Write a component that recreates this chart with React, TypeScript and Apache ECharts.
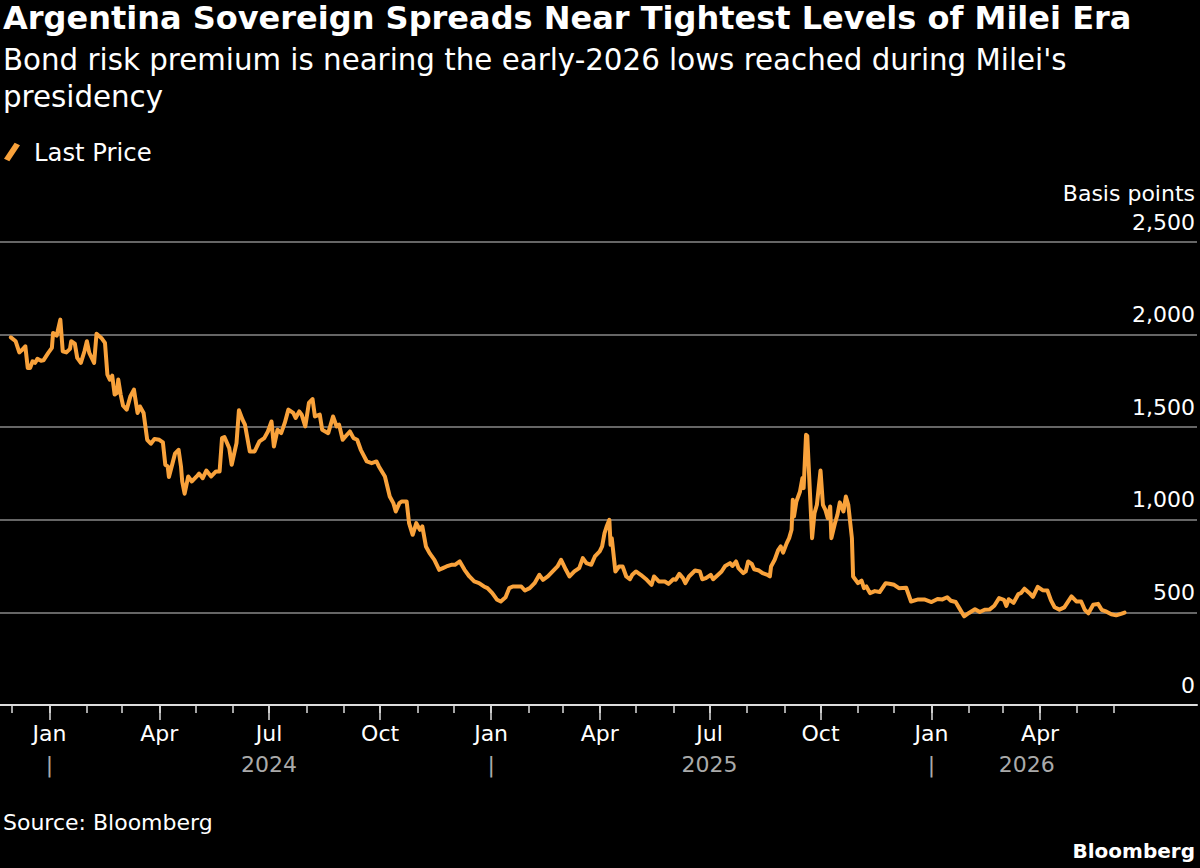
import React, { useEffect, useRef } from "react";
import * as echarts from "echarts";

const dates: string[] = [
  "2023-11-30","2023-12-04","2023-12-07","2023-12-09","2023-12-12","2023-12-14","2023-12-16","2023-12-18","2023-12-20","2023-12-22",
  "2023-12-25","2023-12-27","2023-12-31","2024-01-03","2024-01-04","2024-01-07","2024-01-10","2024-01-12","2024-01-15","2024-01-18",
  "2024-01-19","2024-01-22","2024-01-24","2024-01-27","2024-01-30","2024-02-01","2024-02-03","2024-02-07","2024-02-09","2024-02-13",
  "2024-02-16","2024-02-18","2024-02-20","2024-02-22","2024-02-24","2024-02-26","2024-02-27","2024-02-29","2024-03-02","2024-03-05",
  "2024-03-08","2024-03-11","2024-03-14","2024-03-16","2024-03-19","2024-03-22","2024-03-25","2024-03-28","2024-04-01","2024-04-04",
  "2024-04-06","2024-04-08","2024-04-09","2024-04-12","2024-04-14","2024-04-17","2024-04-19","2024-04-20","2024-04-22","2024-04-25",
  "2024-04-28","2024-05-02","2024-05-04","2024-05-07","2024-05-10","2024-05-14","2024-05-18","2024-05-21","2024-05-23","2024-05-25",
  "2024-05-29","2024-05-31","2024-06-04","2024-06-06","2024-06-09","2024-06-11","2024-06-15","2024-06-19","2024-06-23","2024-06-27",
  "2024-06-30","2024-07-03","2024-07-05","2024-07-08","2024-07-11","2024-07-14","2024-07-17","2024-07-21","2024-07-23","2024-07-26",
  "2024-07-28","2024-07-31","2024-08-03","2024-08-06","2024-08-08","2024-08-12","2024-08-14","2024-08-19","2024-08-23","2024-08-26",
  "2024-08-28","2024-08-31","2024-09-03","2024-09-06","2024-09-09","2024-09-12","2024-09-15","2024-09-20","2024-09-24","2024-09-28",
  "2024-09-30","2024-10-05","2024-10-07","2024-10-09","2024-10-12","2024-10-14","2024-10-17","2024-10-19","2024-10-23","2024-10-25",
  "2024-10-28","2024-10-31","2024-11-03","2024-11-05","2024-11-08","2024-11-11","2024-11-15","2024-11-19","2024-11-22","2024-11-25",
  "2024-11-29","2024-12-02","2024-12-06","2024-12-10","2024-12-14","2024-12-18","2024-12-22","2024-12-26","2024-12-29","2025-01-02",
  "2025-01-06","2025-01-09","2025-01-13","2025-01-16","2025-01-19","2025-01-23","2025-01-26","2025-01-29","2025-02-02","2025-02-06",
  "2025-02-10","2025-02-13","2025-02-17","2025-02-21","2025-02-25","2025-02-28","2025-03-04","2025-03-07","2025-03-11","2025-03-15",
  "2025-03-18","2025-03-21","2025-03-25","2025-03-28","2025-04-01","2025-04-03","2025-04-05","2025-04-07","2025-04-09","2025-04-10",
  "2025-04-11","2025-04-14","2025-04-17","2025-04-20","2025-04-23","2025-04-26","2025-04-28","2025-05-01","2025-05-05","2025-05-10",
  "2025-05-14","2025-05-16","2025-05-20","2025-05-25","2025-05-28","2025-06-01","2025-06-03","2025-06-06","2025-06-09","2025-06-11",
  "2025-06-14","2025-06-19","2025-06-23","2025-06-25","2025-06-28","2025-07-02","2025-07-04","2025-07-07","2025-07-11","2025-07-14",
  "2025-07-18","2025-07-20","2025-07-23","2025-07-25","2025-07-29","2025-07-31","2025-08-02","2025-08-05","2025-08-07","2025-08-11",
  "2025-08-14","2025-08-18","2025-08-20","2025-08-21","2025-08-24","2025-08-27","2025-08-29","2025-08-31","2025-09-03","2025-09-05",
  "2025-09-07","2025-09-08","2025-09-09","2025-09-11","2025-09-14","2025-09-16","2025-09-17","2025-09-19","2025-09-20","2025-09-22",
  "2025-09-24","2025-09-26","2025-09-28","2025-10-01","2025-10-03","2025-10-05","2025-10-07","2025-10-09","2025-10-10","2025-10-13",
  "2025-10-15","2025-10-17","2025-10-20","2025-10-22","2025-10-24","2025-10-27","2025-10-28","2025-11-01","2025-11-04","2025-11-06",
  "2025-11-08","2025-11-11","2025-11-15","2025-11-19","2025-11-24","2025-11-27","2025-12-01","2025-12-05","2025-12-11","2025-12-15",
  "2025-12-21","2025-12-26","2026-01-01","2026-01-06","2026-01-10","2026-01-14","2026-01-17","2026-01-21","2026-01-24","2026-01-28",
  "2026-02-01","2026-02-06","2026-02-10","2026-02-14","2026-02-18","2026-02-22","2026-02-26","2026-03-02","2026-03-04","2026-03-06",
  "2026-03-10","2026-03-14","2026-03-16","2026-03-19","2026-03-23","2026-03-26","2026-03-30","2026-04-03","2026-04-07","2026-04-10",
  "2026-04-13","2026-04-17","2026-04-21","2026-04-27","2026-05-01","2026-05-05","2026-05-08","2026-05-11","2026-05-15","2026-05-19",
  "2026-05-22","2026-05-26","2026-05-30","2026-06-03","2026-06-07","2026-06-10",
];

const spreads: number[] = [
  1985,1964,1904,1915,1937,1820,1820,1856,1847,1869,
  1859,1861,1901,1928,2009,1995,2081,1910,1904,1923,
  1964,1951,1874,1847,1910,1964,1901,1847,2005,1982,
  1955,1784,1757,1778,1676,1685,1757,1676,1616,1595,
  1666,1703,1577,1612,1577,1432,1411,1436,1432,1418,
  1297,1288,1231,1306,1357,1378,1288,1207,1141,1234,
  1207,1234,1249,1225,1266,1234,1261,1261,1441,1447,
  1387,1297,1414,1591,1541,1514,1369,1369,1423,1441,
  1477,1531,1396,1486,1468,1523,1595,1577,1550,1585,
  1568,1504,1631,1652,1558,1568,1486,1468,1558,1504,
  1514,1432,1455,1477,1441,1432,1378,1315,1306,1315,
  1288,1234,1180,1126,1090,1045,1090,1099,1099,982,
  919,982,946,964,856,820,784,730,739,748,
  757,757,775,730,694,667,658,640,631,604,
  568,559,582,631,640,640,640,618,631,658,
  703,676,694,721,748,784,730,694,721,739,
  793,766,757,802,829,856,928,968,1000,865,
  901,721,748,748,694,679,703,721,703,676,
  649,694,667,667,654,679,676,708,685,658,
  694,726,721,679,685,703,679,697,721,751,
  766,751,775,739,712,721,775,762,733,726,
  712,703,694,748,784,838,856,823,874,901,
  946,1108,1018,1099,1153,1225,1171,1459,1454,1180,
  901,1036,1081,1266,1081,1054,1009,1072,901,982,
  1027,1094,1045,1126,1081,901,694,658,672,631,
  640,604,615,610,658,655,649,631,633,559,
  570,570,556,572,570,582,563,556,523,479,
  497,517,502,514,515,536,577,568,535,571,
  552,599,604,628,605,584,638,620,618,565,
  528,515,527,586,559,559,514,495,541,546,
  514,504,490,484,492,499,
];

const monthTicks: string[] = [
  "2023-12-01",
  "2024-01-01","2024-02-01","2024-03-01","2024-04-01","2024-05-01","2024-06-01",
  "2024-07-01","2024-08-01","2024-09-01","2024-10-01","2024-11-01","2024-12-01",
  "2025-01-01","2025-02-01","2025-03-01","2025-04-01","2025-05-01","2025-06-01",
  "2025-07-01","2025-08-01","2025-09-01","2025-10-01","2025-11-01","2025-12-01",
  "2026-01-01","2026-02-01","2026-03-01","2026-04-01","2026-05-01","2026-06-01",
];
const quarterTicks: string[] = [
  "2024-01-01","2024-04-01","2024-07-01","2024-10-01",
  "2025-01-01","2025-04-01","2025-07-01","2025-10-01",
  "2026-01-01","2026-04-01",
];
const monthNames: string[] = ["Jan","Feb","Mar","Apr","May","Jun","Jul","Aug","Sep","Oct","Nov","Dec"];
const yearSeparators: string[] = ["2024-01-01","2025-01-01","2026-01-01"];
const yearLabelDates: string[] = ["2024-07-01","2025-07-01","2026-03-21"];
const yearLabels: string[] = ["2024","2025","2026"];
const axisMin = "2023-11-21";
const axisMax = "2026-08-09";

const FONT = "DejaVu Sans";
const ORANGE = "#F9A23B";

function toTs(s: string): number {
  const [y, m, d] = s.split("-").map(Number);
  return Date.UTC(y, m - 1, d);
}

export default function App() {
  const ref = useRef<HTMLDivElement>(null);
  useEffect(() => {
    document.body.style.margin = "0";
    document.body.style.background = "#000";
    if (!ref.current) return;
    const chart = echarts.init(ref.current, undefined, { renderer: "svg" });
    const yearLabelMap: Record<number, string> = {};
    yearSeparators.forEach((d) => (yearLabelMap[toTs(d)] = "|"));
    yearLabelDates.forEach((d, i) => (yearLabelMap[toTs(d)] = yearLabels[i]));
    const yearAxisValues = [...yearSeparators, ...yearLabelDates].map(toTs);
    const baseX = {
      type: "value" as const,
      min: toTs(axisMin),
      max: toTs(axisMax),
      position: "bottom" as const,
      gridIndex: 0,
      splitLine: { show: false },
    };
    chart.setOption({
      animation: false,
      backgroundColor: "#000",
      textStyle: { fontFamily: FONT },
      title: [
        {
          text: "Argentina Sovereign Spreads Near Tightest Levels of Milei Era",
          left: 3,
          top: 2,
          padding: 0,
          textStyle: { color: "#fff", fontSize: 32, fontWeight: "bold", fontFamily: FONT },
        },
        {
          text: "Bond risk premium is nearing the early-2026 lows reached during Milei's\npresidency",
          left: 3,
          top: 41,
          padding: 0,
          textStyle: { color: "#fff", fontSize: 29.3, fontWeight: "normal", lineHeight: 37, fontFamily: FONT },
        },
        {
          text: "Source: Bloomberg",
          left: 3,
          top: 811,
          padding: 0,
          textStyle: { color: "#fff", fontSize: 22, fontWeight: "normal", fontFamily: FONT },
        },
        {
          text: "Bloomberg",
          right: 5,
          top: 841,
          padding: 0,
          textStyle: { color: "#fff", fontSize: 20, fontWeight: "bold", fontFamily: FONT },
        },
      ],
      legend: {
        left: 4,
        top: 140,
        padding: 0,
        data: ["Last Price"],
        icon: "path://M12,0 L18,3 L6,21 L0,18 Z",
        itemWidth: 16,
        itemHeight: 19,
        textStyle: { color: "#fff", fontSize: 24.3, fontFamily: FONT, padding: [0, 0, 0, 9] },
      },
      grid: { left: 0, right: 3, top: 242, bottom: 163, containLabel: false },
      xAxis: [
        {
          ...baseX,
          axisLine: { show: true, lineStyle: { color: "#ddd", width: 2 } },
          axisTick: { show: true, length: 8, lineStyle: { color: "#ddd", width: 1.5 }, customValues: monthTicks.map(toTs) },
          axisLabel: { show: false },
        },
        {
          ...baseX,
          axisLine: { show: false },
          axisTick: { show: true, length: 15, lineStyle: { color: "#ddd", width: 1.5 }, customValues: quarterTicks.map(toTs) },
          axisLabel: {
            show: true,
            customValues: quarterTicks.map(toTs),
            margin: 17,
            color: "#fff",
            fontSize: 22,
            fontFamily: FONT,
            formatter: (v: number) => monthNames[new Date(v).getUTCMonth()],
          },
        },
        {
          ...baseX,
          axisLine: { show: false },
          axisTick: { show: false },
          axisLabel: {
            show: true,
            customValues: yearAxisValues,
            margin: 48,
            color: "#aaa",
            fontSize: 22,
            fontFamily: FONT,
            formatter: (v: number) => yearLabelMap[v] ?? "",
          },
        },
      ],
      yAxis: {
        type: "value",
        position: "right",
        min: 0,
        max: 2500,
        interval: 500,
        name: "Basis points",
        nameLocation: "end",
        nameGap: 38,
        nameTextStyle: { color: "#fff", fontSize: 22, align: "right", fontFamily: FONT, padding: [0, 2, 0, 0] },
        axisLine: { show: false },
        axisTick: { show: false },
        splitLine: { show: true, lineStyle: { color: "#666", width: 2 } },
        axisLabel: {
          inside: true,
          margin: 2,
          color: "#fff",
          fontSize: 22,
          fontFamily: FONT,
          verticalAlign: "bottom",
          padding: [0, 0, 9, 0],
          formatter: (v: number) => v.toLocaleString("en-US"),
        },
      },
      series: [
        {
          name: "Last Price",
          type: "line",
          xAxisIndex: 0,
          data: dates.map((d, i) => [toTs(d), spreads[i]]),
          showSymbol: false,
          symbol: "none",
          lineStyle: { color: ORANGE, width: 4, join: "round", cap: "round" },
          itemStyle: { color: ORANGE },
        },
      ],
    });
    return () => chart.dispose();
  }, []);
  return (
    <div
      ref={ref}
      style={{ position: "absolute", left: 0, top: 0, width: 1200, height: 868, background: "#000" }}
    />
  );
}
